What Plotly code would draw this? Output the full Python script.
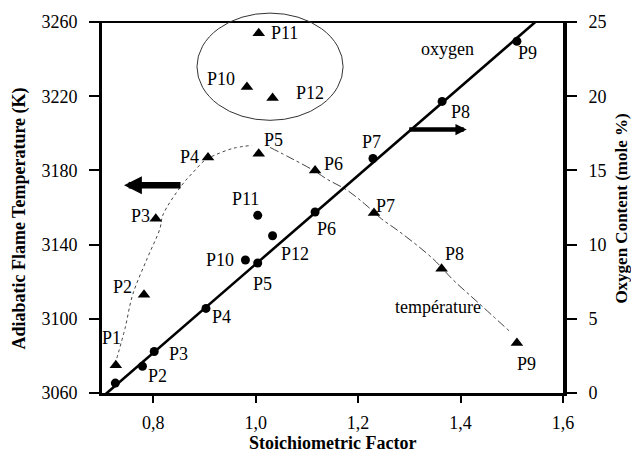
import numpy as np
import plotly.graph_objects as go

# ---------------- data ----------------
point_names = ["P1", "P2", "P3", "P4", "P5", "P6", "P7", "P8", "P9", "P10", "P11", "P12"]

# adiabatic flame temperature (left axis, triangles)
temp_x = [0.727, 0.782, 0.805, 0.907, 1.006, 1.116, 1.231, 1.363, 1.510, 0.983, 1.006, 1.033]
temp_K = [3075, 3113, 3154, 3187, 3189, 3180, 3157, 3127, 3087, 3225, 3254, 3219]

# oxygen content (right axis, circles)
oxy_x = [0.726, 0.779, 0.802, 0.903, 1.004, 1.116, 1.229, 1.364, 1.510, 0.980, 1.004, 1.033]
oxy_pct = [0.67, 1.8, 2.8, 5.7, 8.76, 12.2, 15.8, 19.65, 23.7, 8.96, 11.97, 10.6]

# temperature trend curves
rise_x = [0.729, 0.745, 0.760, 0.788, 0.813, 0.819, 0.856, 0.878, 0.901, 0.920, 0.956, 0.993]
rise_K = [3078.8, 3094.9, 3113.1, 3132.4, 3148.5, 3156.0, 3172.1, 3179.0, 3185.5, 3188.2, 3191.9, 3193.5]
fall_x = [1.028, 1.073, 1.116, 1.139, 1.178, 1.213, 1.246, 1.281, 1.346, 1.385, 1.432, 1.496]
fall_K = [3192.4, 3186.0, 3179.5, 3175.3, 3169.4, 3161.9, 3153.8, 3146.9, 3132.4, 3121.1, 3109.3, 3093.2]

x_tickvals = [0.8, 1.0, 1.2, 1.4, 1.6]
x_ticktext = ["0,8", "1,0", "1,2", "1,4", "1,6"]

# ---------------- styling / positions ----------------
FONT = "'Liberation Serif', 'Times New Roman', 'DejaVu Serif', serif"
X_RANGE = [0.7, 1.6]
Y_RANGE = [3060, 3260]
Y2_RANGE = [0, 25]

# label pixel offsets (dx, dy up) relative to marker
temp_label_off = [(-4, 27), (-22, 8), (-15, 3), (-19, 0), (15, 14), (18, 6), (12, 7),
                  (13, 15), (10, -21), (-26, 8), (26, 0), (37, 5)]
oxy_label_off = [None, (15, -10), (24, -3), (16, -9), (5, -21), (11, -17), (-1, 17),
                 (18, -11), (11, -12), (-25, 0), (-12, 16), (22, -18)]

fig = go.Figure()

fig.add_trace(go.Scatter(x=rise_x, y=rise_K, mode="lines", line_shape="spline",
                         line=dict(color="#444", width=1, dash="dot"),
                         hoverinfo="skip", showlegend=False))
fig.add_trace(go.Scatter(x=fall_x, y=fall_K, mode="lines", line_shape="spline",
                         line=dict(color="#444", width=1, dash="dashdot"),
                         hoverinfo="skip", showlegend=False))

# linear fit of the oxygen content P1..P9
coef = np.polyfit(oxy_x[:9], oxy_pct[:9], 1)
fit_x = np.array(X_RANGE)
fig.add_trace(go.Scatter(x=fit_x, y=np.polyval(coef, fit_x), yaxis="y2", mode="lines",
                         line=dict(color="black", width=2.6),
                         hoverinfo="skip", showlegend=False))

fig.add_trace(go.Scatter(x=oxy_x, y=oxy_pct, yaxis="y2", mode="markers",
                         marker=dict(symbol="circle", size=9, color="black"),
                         showlegend=False))
fig.add_trace(go.Scatter(x=temp_x, y=temp_K, mode="markers",
                         marker=dict(symbol="triangle-up", size=11, color="black"),
                         showlegend=False))

lab_font = dict(family=FONT, size=18, color="black")
ann = []
for name, x, y, (dx, dy) in zip(point_names, temp_x, temp_K, temp_label_off):
    ann.append(dict(x=x, y=y, xref="x", yref="y", text=name, showarrow=False,
                    xshift=dx, yshift=dy, font=lab_font))
for name, x, y, off in zip(point_names, oxy_x, oxy_pct, oxy_label_off):
    if off is None:
        continue
    ann.append(dict(x=x, y=y, xref="x", yref="y2", text=name, showarrow=False,
                    xshift=off[0], yshift=off[1], font=lab_font))

ann.append(dict(x=1.375, y=23.2, xref="x", yref="y2", text="oxygen", showarrow=False,
                font=lab_font))
ann.append(dict(x=1.355, y=3106.5, xref="x", yref="y", text="température", showarrow=False,
                font=lab_font))

# arrows
ann.append(dict(x=0.743, y=3172, xref="x", yref="y", ax=58, ay=0, text="", showarrow=True,
                arrowhead=2, arrowwidth=6.5, arrowsize=0.55, arrowcolor="black"))
ann.append(dict(x=1.412, y=3202, xref="x", yref="y", ax=-59, ay=0, text="", showarrow=True,
                arrowhead=2, arrowwidth=4.5, arrowsize=0.5, arrowcolor="black"))

# axis titles
title_font = dict(family=FONT, size=18, color="black")
ann.append(dict(x=-0.178, y=0.47, xref="paper", yref="paper", xanchor="center", yanchor="middle",
                text="<b>Adiabatic Flame Temperature (K)</b>",
                textangle=-90, showarrow=False, font=title_font))
ann.append(dict(x=1.128, y=0.497, xref="paper", yref="paper", xanchor="center", yanchor="middle",
                text="<b>Oxygen Content (mole %)</b>",
                textangle=-90, showarrow=False, font=dict(family=FONT, size=17, color="black")))
ann.append(dict(x=0.5, y=-0.136, xref="paper", yref="paper", xanchor="center", yanchor="middle",
                text="<b>Stoichiometric Factor</b>",
                showarrow=False, font=title_font))

shapes = [
    # top frame line
    dict(type="line", xref="paper", yref="paper", x0=-0.022, x1=1.022, y0=1, y1=1,
         line=dict(color="black", width=2)),
    # ellipse around P10-P12
    dict(type="circle", xref="paper", yref="paper", x0=0.206, x1=0.523, y0=0.735, y1=1.024,
         line=dict(color="#333", width=1)),
]

fig.update_layout(
    width=631, height=460,
    margin=dict(l=102, r=68, t=19, b=67),
    paper_bgcolor="white", plot_bgcolor="white",
    font=dict(family=FONT, size=18, color="black"),
    showlegend=False,
    annotations=ann, shapes=shapes,
    xaxis=dict(range=X_RANGE, tickvals=x_tickvals, ticktext=x_ticktext,
               showline=True, linewidth=3, linecolor="black",
               ticks="outside", ticklen=7, tickwidth=2, tickcolor="black",
               showgrid=False, zeroline=False, ticklabelstandoff=4,
               tickfont=dict(family=FONT, size=18)),
    yaxis=dict(range=Y_RANGE, tick0=3060, dtick=40,
               showline=True, linewidth=3, linecolor="black",
               ticks="outside", ticklen=10, tickwidth=2, tickcolor="black",
               showgrid=False, zeroline=False, ticklabelstandoff=8,
               tickfont=dict(family=FONT, size=18)),
    yaxis2=dict(range=Y2_RANGE, tick0=0, dtick=5, overlaying="y", side="right",
                showline=True, linewidth=4, linecolor="black",
                ticks="outside", ticklen=10, tickwidth=2, tickcolor="black",
                showgrid=False, zeroline=False, ticklabelstandoff=8,
                tickfont=dict(family=FONT, size=18)),
)

fig.write_html("out.html")
